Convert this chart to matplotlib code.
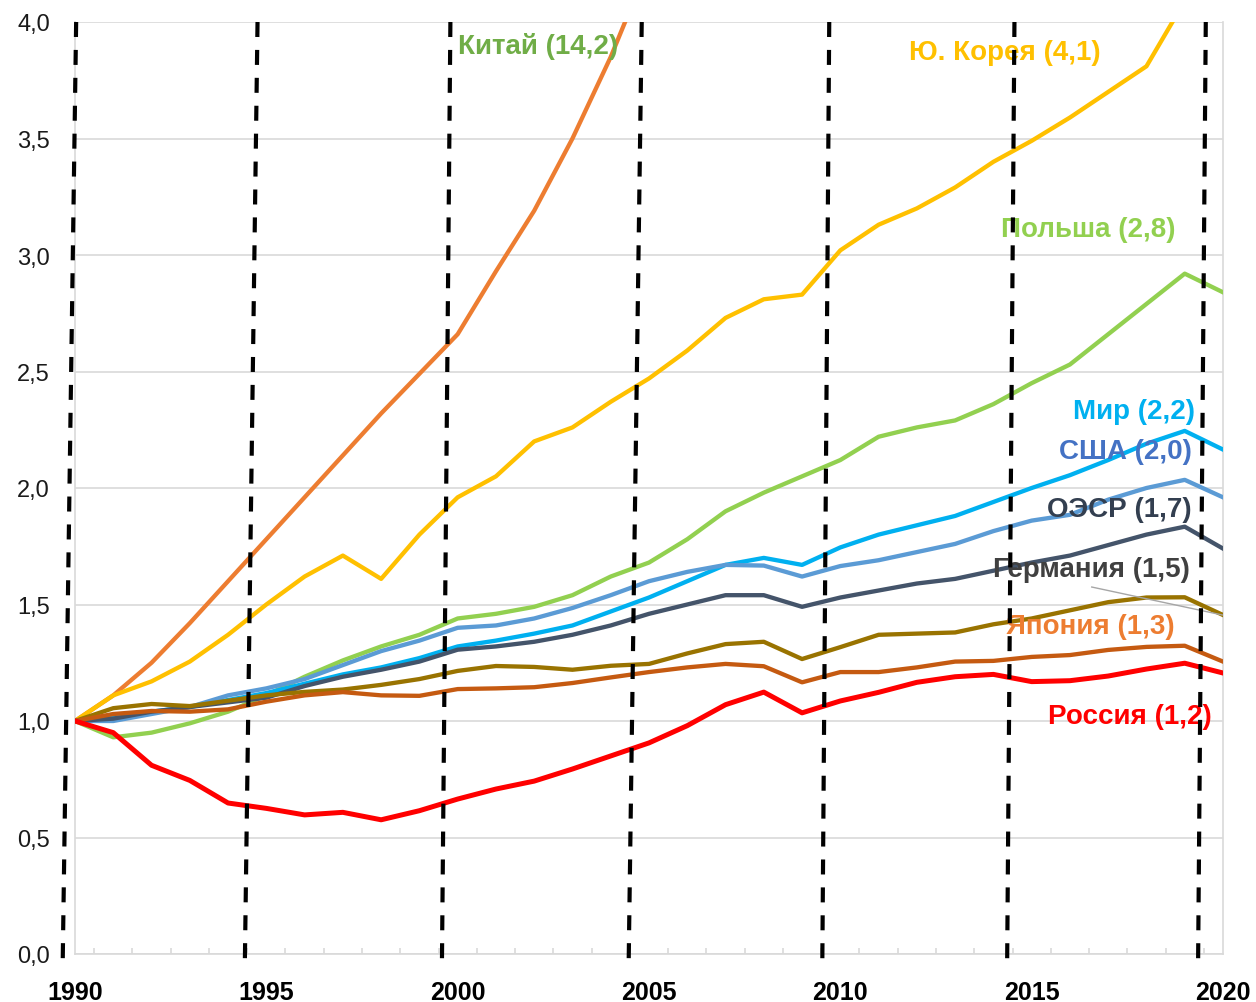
#! /usr/bin/env python3
import matplotlib
matplotlib.use("Agg")
import matplotlib.pyplot as plt
from matplotlib.ticker import FixedLocator, FuncFormatter

plt.rcParams['font.family'] = ['Liberation Sans', 'DejaVu Sans']

""" ВВП / потребление: рост относительно 1990 года """

years = list(range(1990, 2021))

china = [1.00, 1.11, 1.25, 1.42, 1.60, 1.78, 1.96, 2.14, 2.32, 2.49, 2.66,
         2.93, 3.19, 3.50, 3.85, 4.25, 4.70, 5.20, 5.70, 6.20, 6.80,
         7.40, 8.00, 8.60, 9.20, 9.80, 10.50, 11.30, 12.20, 13.20, 14.20]
korea = [1.00, 1.11, 1.17, 1.255, 1.37, 1.50, 1.62, 1.71, 1.61, 1.80, 1.96,
         2.05, 2.20, 2.26, 2.37, 2.47, 2.59, 2.73, 2.81, 2.83, 3.02,
         3.13, 3.20, 3.29, 3.40, 3.49, 3.59, 3.70, 3.81, 4.09, 4.12]
poland = [1.00, 0.93, 0.95, 0.99, 1.04, 1.11, 1.19, 1.26, 1.32, 1.37, 1.44,
          1.46, 1.49, 1.54, 1.62, 1.68, 1.78, 1.90, 1.98, 2.05, 2.12,
          2.22, 2.26, 2.29, 2.36, 2.45, 2.53, 2.66, 2.79, 2.92, 2.84]
world = [1.00, 1.02, 1.04, 1.06, 1.09, 1.12, 1.16, 1.20, 1.23, 1.27, 1.32,
         1.345, 1.375, 1.41, 1.47, 1.53, 1.60, 1.67, 1.70, 1.67, 1.745,
         1.80, 1.84, 1.88, 1.94, 2.00, 2.055, 2.12, 2.19, 2.245, 2.165]
usa = [1.00, 1.00, 1.03, 1.06, 1.11, 1.14, 1.18, 1.24, 1.30, 1.345, 1.40,
       1.41, 1.44, 1.485, 1.54, 1.60, 1.64, 1.67, 1.667, 1.62, 1.665,
       1.69, 1.725, 1.76, 1.815, 1.86, 1.885, 1.95, 2.00, 2.035, 1.96]
oecd = [1.00, 1.01, 1.04, 1.06, 1.08, 1.10, 1.15, 1.19, 1.22, 1.255, 1.306,
        1.32, 1.34, 1.37, 1.41, 1.46, 1.50, 1.54, 1.54, 1.49, 1.53,
        1.56, 1.59, 1.61, 1.645, 1.68, 1.71, 1.755, 1.80, 1.834, 1.74]
germany = [1.00, 1.055, 1.073, 1.064, 1.087, 1.11, 1.125, 1.135, 1.155, 1.18, 1.215,
           1.236, 1.232, 1.22, 1.237, 1.245, 1.29, 1.33, 1.34, 1.266, 1.317,
           1.37, 1.375, 1.38, 1.415, 1.44, 1.475, 1.51, 1.53, 1.531, 1.455]
japan = [1.00, 1.03, 1.043, 1.04, 1.05, 1.083, 1.11, 1.124, 1.11, 1.108, 1.137,
         1.14, 1.145, 1.163, 1.187, 1.21, 1.23, 1.245, 1.235, 1.166, 1.21,
         1.21, 1.23, 1.255, 1.258, 1.275, 1.283, 1.305, 1.318, 1.323, 1.255]
russia = [1.00, 0.95, 0.81, 0.745, 0.648, 0.625, 0.597, 0.608, 0.576, 0.615, 0.665,
          0.708, 0.742, 0.794, 0.85, 0.906, 0.98, 1.07, 1.124, 1.035, 1.086,
          1.123, 1.166, 1.19, 1.20, 1.169, 1.173, 1.193, 1.223, 1.248, 1.206]

series = [
    # (values, line colour, label, label colour)
    (china, '#ED7D31', 'Китай (14,2)', '#70AD47'),
    (korea, '#FFC000', 'Ю. Корея (4,1)', '#FFC000'),
    (poland, '#92D050', 'Польша (2,8)', '#92D050'),
    (world, '#00B0F0', 'Мир (2,2)', '#00B0F0'),
    (usa, '#5B9BD5', 'США (2,0)', '#4472C4'),
    (oecd, '#44546A', 'ОЭСР (1,7)', '#333F50'),
    (germany, '#997300', 'Германия (1,5)', '#404040'),
    (japan, '#C55A11', 'Япония (1,3)', '#ED7D31'),
    (russia, '#FF0000', 'Россия (1,2)', '#FF0000'),
]

#Where the labels sit (x in years, y in units)
label_pos = {
    'Китай (14,2)': (2002.1, 3.90),
    'Ю. Корея (4,1)': (2014.31, 3.87),
    'Польша (2,8)': (2016.47, 3.11),
    'Мир (2,2)': (2017.67, 2.33),
    'США (2,0)': (2017.46, 2.16),
    'ОЭСР (1,7)': (2017.29, 1.91),
    'Германия (1,5)': (2016.57, 1.652),
    'Япония (1,3)': (2016.52, 1.409),
    'Россия (1,2)': (2017.57, 1.023),
}

#Hand drawn dashed lines in the source: (x at top, x at bottom)
dashed = [(1990.03, 1989.68), (1994.77, 1994.44), (1999.81, 1999.59),
          (2004.81, 2004.47), (2009.71, 2009.53), (2014.55, 2014.36),
          (2019.55, 2019.35)]

grid_c = '#D9D9D9'

fig = plt.figure(figsize=(12.56, 10.03), dpi=100)
ax = fig.add_axes([75 / 1256, 1 - 955 / 1003, (1223 - 75) / 1256, (955 - 23) / 1003])

for vals, col, lab, lcol in series:
    lw = 3.6 if col == '#FF0000' else 3.1
    ax.plot(years, vals, color=col, lw=lw, solid_joinstyle='round', zorder=3)
    tx, ty = label_pos[lab]
    ax.text(tx, ty, lab, color=lcol, fontsize=20, fontweight='bold',
            ha='center', va='center', zorder=5)

#Leader line for Германия
ax.plot([2016.57, 2019.98], [1.575, 1.455], color='#A6A6A6', lw=1.0, zorder=4)

for top, bottom in dashed:
    ax.plot([top, bottom], [4.0, -0.02], color='black', lw=3.0,
            dashes=(3.6, 3.1), clip_on=False, zorder=6)

ax.set_xlim(1990, 2020)
ax.set_ylim(0, 4.0)

ax.set_yticks([i * 0.5 for i in range(9)])
ax.yaxis.set_major_formatter(FuncFormatter(lambda v, p: ('%.1f' % v).replace('.', ',')))
ax.tick_params(axis='y', length=0, pad=18, labelsize=17, labelcolor='#1A1A1A')
ax.grid(axis='y', color=grid_c, lw=1.2, zorder=0)

ax.set_xticks(list(range(1990, 2021, 5)))
ax.xaxis.set_minor_locator(FixedLocator([y + 0.5 for y in range(1990, 2020)]))
ax.tick_params(axis='x', which='major', length=0, pad=19, labelsize=18)
ax.tick_params(axis='x', which='minor', direction='in', length=4.5, width=1.2, color=grid_c)
for t in ax.get_xticklabels():
    t.set_fontweight('bold')

ax.spines['top'].set_visible(False)
for s in ['left', 'bottom', 'right']:
    ax.spines[s].set_color(grid_c)
    ax.spines[s].set_linewidth(1.2)

fig.savefig('out.png', dpi=100)
